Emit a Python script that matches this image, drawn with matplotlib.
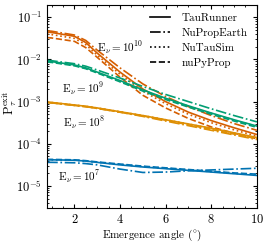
import numpy as np
import matplotlib
matplotlib.use('Agg')
import matplotlib.pyplot as plt
from matplotlib.ticker import MultipleLocator, LogLocator

plt.rcParams['font.family'] = 'serif'
plt.rcParams['font.serif'] = ['cmr10', 'DejaVu Serif']
plt.rcParams['mathtext.fontset'] = 'cm'
plt.rcParams['axes.formatter.use_mathtext'] = True

# --- dados (log10 da probabilidade) ---
angle = [0.8, 1, 2, 2.5, 3, 4, 5, 6, 7, 8, 9, 10]

e10_taurunner = [-1.35, -1.36, -1.45, -1.60, -1.85, -2.30, -2.70, -3.00, -3.25, -3.45, -3.62, -3.78]
e10_nupropearth = [-1.32, -1.33, -1.42, -1.55, -1.78, -2.20, -2.58, -2.88, -3.12, -3.33, -3.52, -3.68]
e10_nutausim = [-1.40, -1.41, -1.50, -1.65, -1.90, -2.35, -2.75, -3.05, -3.30, -3.50, -3.67, -3.82]
e10_nupyprop = [-1.48, -1.49, -1.57, -1.72, -1.95, -2.42, -2.85, -3.15, -3.40, -3.60, -3.75, -3.88]

e9_taurunner = [-2.04, -2.05, -2.13, -2.20, -2.30, -2.50, -2.72, -2.92, -3.10, -3.27, -3.43, -3.58]
e9_nupropearth = [-2.02, -2.03, -2.10, -2.16, -2.25, -2.44, -2.64, -2.83, -3.00, -3.17, -3.33, -3.48]
e9_nutausim = [-2.05, -2.06, -2.14, -2.21, -2.31, -2.52, -2.73, -2.93, -3.11, -3.28, -3.44, -3.59]
e9_nupyprop = [-2.06, -2.07, -2.15, -2.22, -2.32, -2.53, -2.75, -2.95, -3.13, -3.30, -3.46, -3.61]

e8_taurunner = [-3.01, -3.02, -3.08, -3.11, -3.15, -3.24, -3.33, -3.43, -3.53, -3.63, -3.74, -3.85]
e8_nupropearth = [-3.02, -3.03, -3.09, -3.12, -3.16, -3.25, -3.35, -3.46, -3.57, -3.68, -3.79, -3.90]
e8_nutausim = [-3.01, -3.02, -3.08, -3.11, -3.15, -3.24, -3.33, -3.43, -3.53, -3.64, -3.75, -3.86]
e8_nupyprop = [-3.02, -3.03, -3.09, -3.12, -3.16, -3.25, -3.34, -3.44, -3.55, -3.66, -3.77, -3.88]

e7_taurunner = [-4.38, -4.38, -4.39, -4.41, -4.44, -4.50, -4.55, -4.59, -4.63, -4.67, -4.71, -4.75]
e7_nupropearth = [-4.44, -4.44, -4.45, -4.47, -4.50, -4.60, -4.68, -4.67, -4.64, -4.62, -4.60, -4.58]
e7_nutausim = [-4.38, -4.38, -4.39, -4.41, -4.44, -4.49, -4.54, -4.58, -4.62, -4.66, -4.70, -4.73]
e7_nupyprop = [-4.37, -4.37, -4.38, -4.40, -4.43, -4.48, -4.53, -4.57, -4.61, -4.65, -4.69, -4.72]

labels = ['TauRunner', 'NuPropEarth', 'NuTauSim', 'nuPyProp']
estilos = ['-', '-.', ':', '--']
energias = [r'$\mathrm{E}_\nu = 10^{10}$', r'$\mathrm{E}_\nu = 10^{9}$',
            r'$\mathrm{E}_\nu = 10^{8}$', r'$\mathrm{E}_\nu = 10^{7}$']
cores = ['#D55E00', '#029E73', '#DE8F05', '#0173B2']

series = [
    [e10_taurunner, e10_nupropearth, e10_nutausim, e10_nupyprop],
    [e9_taurunner, e9_nupropearth, e9_nutausim, e9_nupyprop],
    [e8_taurunner, e8_nupropearth, e8_nutausim, e8_nupyprop],
    [e7_taurunner, e7_nupropearth, e7_nutausim, e7_nupyprop],
]
pos_texto = [(3.0, 0.019), (1.45, 2.0e-3), (1.5, 3.2e-4), (1.3, 1.7e-5)]

fig = plt.figure(figsize=(2.69, 2.43), dpi=100)
ax = fig.add_axes([0.175, 0.144, 0.78, 0.837])

for grupo, cor in zip(series, cores):
    for vals, ls in zip(grupo, estilos):
        ax.plot(angle, 10 ** np.array(vals), color=cor, ls=ls, lw=1.2)

for txt, (x, y) in zip(energias, pos_texto):
    ax.text(x, y, txt, fontsize=8, va='center', ha='left')

for lab, ls in zip(labels, estilos):
    ax.plot([], [], color='k', ls=ls, lw=1.2, label=lab)
ax.legend(loc='upper right', frameon=False, fontsize=8, handlelength=1.8,
          handletextpad=1.1, labelspacing=0.45, borderaxespad=0.4)

ax.set_yscale('log')
ax.set_xlim(0.8, 10)
ax.set_ylim(3e-6, 0.2)
ax.xaxis.set_major_locator(MultipleLocator(2))
ax.xaxis.set_minor_locator(MultipleLocator(0.5))
ax.yaxis.set_minor_locator(LogLocator(base=10, subs=np.arange(2, 10), numticks=20))
ax.tick_params(which='both', direction='in', top=True, right=True, labelsize=9)
ax.tick_params(which='major', length=3)
ax.tick_params(which='minor', length=1.5)
ax.set_xlabel(r'Emergence angle $(^{\circ})$', fontsize=8, labelpad=1)
ax.set_ylabel(r'$\mathrm{P}_\tau^{\mathrm{exit}}$', fontsize=9)
ax.yaxis.set_label_coords(-0.135, 0.52)

plt.savefig('out.png', dpi=100)
